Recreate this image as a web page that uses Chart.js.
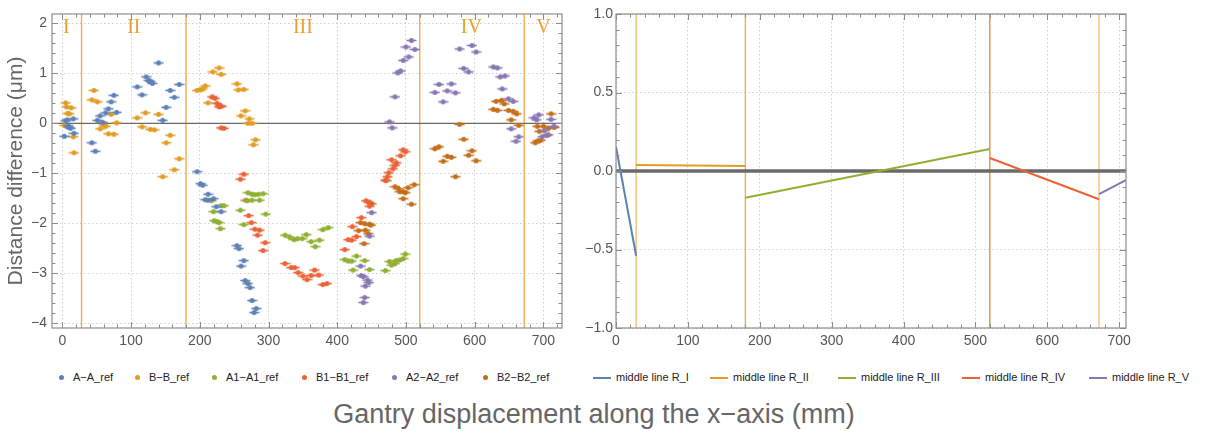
<!DOCTYPE html>
<html>
<head>
<meta charset="utf-8">
<script src="https://cdn.jsdelivr.net/npm/chart.js@4.4.0/dist/chart.umd.min.js"></script>
<style>
body { margin: 0; background: #fff; width: 1205px; height: 437px; position: relative; overflow: hidden; font-family: "Liberation Sans", Arial, sans-serif; }
#cL { position: absolute; left: 0; top: 0; }
#cR { position: absolute; left: 580px; top: 0; }
.leg { position: absolute; top: 370px; height: 14px; font-size: 11px; color: #222; white-space: nowrap; line-height: 14px; }
.dot { display: inline-block; width: 5px; height: 5px; border-radius: 50%; position: absolute; left: -2.5px; top: 5px; }
.dot + span { position: absolute; left: 12px; }
.sw { display: inline-block; width: 18px; height: 2px; position: absolute; left: 0; top: 7px; }
.sw + span { position: absolute; left: 23px; }
#xtitle { position: absolute; left: 0; width: 1188px; top: 399px; text-align: center; font-size: 27px; color: #666; }
</style>
</head>
<body>
<canvas id="cL" width="580" height="360"></canvas>
<canvas id="cR" width="625" height="360"></canvas>
<div id="legL"></div>
<div id="legR"></div>
<div id="xtitle">Gantry displacement along the x−axis (mm)</div>
<script>
// series names and colours
var seriesNames = ['A−A_ref', 'B−B_ref', 'A1−A1_ref', 'B1−B1_ref', 'A2−A2_ref', 'B2−B2_ref'];
var seriesColors = ['#5E81B5', '#E19C24', '#8FB032', '#EB6235', '#8778B3', '#C56E1A'];

// region boundaries and labels
var regionBounds = [28, 180, 520, 672];
var regionLabels = ['I', 'II', 'III', 'IV', 'V'];
var regionLabelX = [6, 104, 350, 595, 700];

// tick values
var xTicks = [0, 100, 200, 300, 400, 500, 600, 700];
var yTicksL = [-4, -3, -2, -1, 0, 1, 2];
var yTicksR = [-1, -0.5, 0, 0.5, 1];

// A-A_ref
var xAA = [3,5,7,9,10,12,16,17,43,48,51,55,59,63,67,71,75,79,109,116,122,126,128,131,140,146,151,157,163,170,196,201,204,208,212,212,220,224,231,254,257,260,264,266,270,273,276,279,282];
var yAA = [-0.26,0.05,0.07,-0.05,-0.08,-0.1,0.09,-0.2,-0.39,-0.56,0.06,0.15,0.02,0.21,0.29,0.43,0.56,0.22,0.73,0.57,0.93,0.86,0.84,0.80,1.21,0.06,0.32,0.66,0.52,0.78,-0.97,-1.21,-1.24,-1.53,-1.42,-1.54,-1.51,-1.67,-1.77,-2.45,-2.51,-2.86,-2.75,-3.15,-3.21,-3.29,-3.55,-3.79,-3.71];
// B-B_ref
var xBB = [3,5,6,8,10,13,16,17,43,46,51,55,60,63,67,71,75,79,109,116,121,128,134,140,146,151,157,163,170,196,201,204,208,212,219,228,231,254,256,260,264,266,270,272,276,278,281];
var yBB = [-0.04,0.41,0.33,0.2,0.19,0.31,-0.27,-0.59,0.47,0.66,0.43,-0.11,-0.03,-0.06,-0.21,0.18,-0.22,0.01,0.11,-0.07,0.21,-0.12,-0.13,0.18,-1.07,-0.39,-0.24,-0.93,-0.71,0.66,0.67,0.69,0.75,0.41,1.03,1.11,0.98,0.79,0.67,0.15,0.68,0.25,0.0,0.09,0.0,-0.43,-0.33];
// A1-A1_ref
var xA1 = [217,220,221,225,228,230,231,235,259,264,269,270,276,276,280,285,287,292,296,324,331,337,342,349,355,362,368,374,379,387,411,416,421,423,428,440,447,470,476,479,484,486,491,496,499];
var yA1 = [-1.55,-1.77,-1.95,-1.97,-1.99,-2.11,-1.65,-1.65,-1.74,-2.03,-1.55,-1.39,-1.42,-1.54,-1.43,-1.42,-1.54,-1.41,-1.82,-2.24,-2.28,-2.33,-2.31,-2.31,-2.23,-2.37,-2.47,-2.34,-2.13,-2.09,-2.73,-2.76,-2.76,-2.94,-2.66,-2.75,-2.93,-2.95,-2.77,-2.84,-2.81,-2.75,-2.74,-2.71,-2.62];
// B1-B1_ref
var xB1 = [218,222,225,228,230,231,231,235,259,264,267,271,275,280,284,287,292,295,324,333,338,343,350,356,362,367,373,379,385,411,416,421,422,428,435,442,446,447,470,471,473,475,479,481,484,486,492,496,499];
var yB1 = [0.53,0.5,0.4,0.33,0.35,0.34,-0.09,-0.1,-1.12,-1.02,-1.54,-1.85,-1.99,-2.12,-2.24,-2.14,-2.55,-2.39,-2.81,-2.89,-2.89,-2.99,-3.06,-3.13,-3.05,-2.94,-3.04,-3.23,-3.21,-2.53,-2.33,-2.34,-2.07,-2.27,-1.89,-1.55,-1.58,-1.66,-1.14,-1.15,-1.07,-0.99,-0.73,-0.91,-0.84,-0.79,-0.65,-0.53,-0.57];
// A2-A2_ref
var xA2 = [434,435,438,438,440,441,444,446,447,450,476,480,484,488,492,496,500,504,508,513,542,548,554,560,566,572,578,584,591,596,602,627,633,637,640,644,649,653,656,660,664,686,690,693,698,701,707,711,715];
var yA2 = [-2.86,-3.05,-3.07,-3.59,-3.49,-3.26,-3.14,-3.19,-2.26,-1.79,0.03,-0.09,0.53,1.01,1.05,1.26,1.53,1.33,1.66,1.48,0.62,0.78,0.43,0.65,0.79,0.61,1.49,1.10,1.03,1.56,1.43,1.13,1.11,0.93,0.69,0.95,0.49,-0.11,0.44,-0.36,-0.27,0.11,0.07,0.17,-0.27,-0.15,-0.23,0.08,-0.06];
// B2-B2_ref
var xB2 = [431,434,439,440,441,445,447,449,450,484,489,491,496,496,499,503,508,512,542,548,554,560,566,572,578,584,591,596,602,627,631,633,639,643,649,653,656,661,664,688,691,692,694,696,700,705,707,711,716];
var yB2 = [-2.15,-1.99,-2.41,-2.01,-2.14,-2.21,-2.02,-2.04,-1.61,-1.27,-1.31,-1.37,-1.37,-1.51,-1.39,-1.29,-1.62,-1.23,-0.51,-0.47,-0.76,-0.66,-0.68,-1.07,-0.02,-0.32,-0.64,-0.55,-0.75,0.28,0.44,0.26,0.46,0.39,0.26,0.07,0.24,0.19,-0.04,-0.39,-0.06,-0.35,-0.16,-0.34,-0.06,-0.24,-0.1,0.19,-0.08];

// middle lines (right panel): start and end of each segment
var lineNames = ['middle line R_I', 'middle line R_II', 'middle line R_III', 'middle line R_IV', 'middle line R_V'];
var lineX = [[0, 28], [28, 180], [180, 520], [520, 672], [672, 710]];
var lineY = [[0.155, -0.54], [0.038, 0.032], [-0.17, 0.14], [0.083, -0.18], [-0.147, -0.057]];

var scatterX = [xAA, xBB, xA1, xB1, xA2, xB2];
var scatterY = [yAA, yBB, yA1, yB1, yA2, yB2];

function pair(xs, ys) {
	return xs.map(function (x, i) { return { x: x, y: ys[i] }; });
}

function fixedTicks(vals) {
	return function (s) { s.ticks = vals.map(function (v) { return { value: v }; }); };
}

function makeMarker(color) {
	var c = document.createElement('canvas');
	c.width = 11; c.height = 7;
	var g = c.getContext('2d');
	g.strokeStyle = color; g.lineWidth = 1.6;
	g.beginPath(); g.moveTo(0.5, 3.5); g.lineTo(10.5, 3.5); g.stroke();
	g.fillStyle = color;
	g.beginPath(); g.arc(5.5, 3.5, 2.5, 0, Math.PI * 2); g.fill();
	return c;
}

function minusFmt(digits) {
	return function (v) {
		var s = Math.abs(v).toFixed(digits);
		return v < 0 ? '−' + s : s;
	};
}

// frame with inward major/minor ticks on all sides
var framePlugin = {
	id: 'frame',
	afterDraw: function (chart, args, o) {
		var ctx = chart.ctx, a = chart.chartArea, x = chart.scales.x, y = chart.scales.y;
		ctx.save();
		ctx.strokeStyle = '#8c8c8c';
		ctx.lineWidth = 1;
		ctx.beginPath();
		var i, v, px, len;
		for (i = Math.ceil(x.min / o.xMinor); i * o.xMinor <= x.max; i++) {
			v = i * o.xMinor;
			len = (i % o.xEvery === 0) ? 6 : 3.5;
			px = Math.round(x.getPixelForValue(v)) + 0.5;
			ctx.moveTo(px, a.top); ctx.lineTo(px, a.top + len);
			ctx.moveTo(px, a.bottom); ctx.lineTo(px, a.bottom - len);
		}
		for (i = Math.ceil(y.min / o.yMinor - 1e-6); i * o.yMinor <= y.max + 1e-6; i++) {
			v = i * o.yMinor;
			len = (i % o.yEvery === 0) ? 6 : 3.5;
			px = Math.round(y.getPixelForValue(v)) + 0.5;
			ctx.moveTo(a.left, px); ctx.lineTo(a.left + len, px);
			ctx.moveTo(a.right, px); ctx.lineTo(a.right - len, px);
		}
		ctx.stroke();
		ctx.lineWidth = 1.2;
		ctx.strokeRect(a.left, a.top, a.right - a.left, a.bottom - a.top);
		ctx.restore();
	}
};

// zero line + region boundaries, drawn under the data
var regionPlugin = {
	id: 'regions',
	beforeDatasetsDraw: function (chart, args, o) {
		var ctx = chart.ctx, a = chart.chartArea, x = chart.scales.x, y = chart.scales.y;
		ctx.save();
		ctx.lineWidth = 1.4;
		regionBounds.forEach(function (b, i) {
			var px = x.getPixelForValue(b);
			ctx.strokeStyle = o.lineColors[i];
			ctx.beginPath(); ctx.moveTo(px, a.top); ctx.lineTo(px, a.bottom); ctx.stroke();
		});
		ctx.strokeStyle = '#6a6a6a';
		ctx.lineWidth = o.zeroWidth;
		var py = y.getPixelForValue(0);
		ctx.beginPath(); ctx.moveTo(a.left, py); ctx.lineTo(a.right, py); ctx.stroke();
		ctx.restore();
	},
	afterDatasetsDraw: function (chart, args, o) {
		if (!o.labels) return;
		var ctx = chart.ctx, x = chart.scales.x, y = chart.scales.y;
		ctx.save();
		ctx.fillStyle = '#E8A030';
		ctx.font = '20px "Liberation Serif", "DejaVu Serif", serif';
		ctx.textAlign = 'center';
		ctx.textBaseline = 'middle';
		regionLabels.forEach(function (t, i) {
			ctx.fillText(t, x.getPixelForValue(regionLabelX[i]), y.getPixelForValue(1.92));
		});
		ctx.restore();
	}
};

var tickFont = { family: '"Liberation Sans", Arial, sans-serif', size: 14 };
var gridOpts = { color: '#cfcfcf', lineWidth: 1, drawTicks: false };
var borderOpts = { display: false, dash: [1.5, 2.5] };
var orangeLine = 'rgba(236,164,60,0.9)';

new Chart(document.getElementById('cL').getContext('2d'), {
	type: 'scatter',
	data: {
		datasets: scatterX.map(function (xs, i) {
			return {
				label: seriesNames[i],
				data: pair(xs, scatterY[i]),
				pointStyle: makeMarker(seriesColors[i]),
				backgroundColor: seriesColors[i],
				borderColor: seriesColors[i]
			};
		})
	},
	options: {
		responsive: false,
		animation: false,
		events: [],
		layout: { padding: { top: 14, right: 18, left: 0, bottom: 0 } },
		plugins: {
			legend: { display: false },
			tooltip: { enabled: false },
			frame: { xMinor: 20, xEvery: 5, yMinor: 0.2, yEvery: 5 },
			regions: { zeroWidth: 1.4, labels: true, lineColors: [orangeLine, orangeLine, orangeLine, orangeLine] }
		},
		scales: {
			x: {
				type: 'linear', min: -15, max: 727,
				afterBuildTicks: fixedTicks(xTicks),
				ticks: { font: tickFont, color: '#555', padding: 5, maxRotation: 0 },
				grid: gridOpts, border: borderOpts,
				afterFit: function (s) { s.height = 32; }
			},
			y: {
				min: -4.1, max: 2.19,
				afterBuildTicks: fixedTicks(yTicksL),
				ticks: { font: tickFont, color: '#555', padding: 5, callback: minusFmt(0) },
				grid: gridOpts, border: borderOpts,
				title: { display: true, text: 'Distance difference (μm)', color: '#666', font: { family: '"Liberation Sans", Arial, sans-serif', size: 21 }, padding: { top: 4, bottom: 0 } },
				afterFit: function (s) { s.width = 52; }
			}
		}
	},
	plugins: [regionPlugin, framePlugin]
});

new Chart(document.getElementById('cR').getContext('2d'), {
	type: 'scatter',
	data: {
		datasets: lineX.map(function (xs, i) {
			return {
				label: lineNames[i],
				data: pair(xs, lineY[i]),
				showLine: true,
				borderColor: seriesColors[i],
				backgroundColor: seriesColors[i],
				borderWidth: 2,
				pointRadius: 0
			};
		})
	},
	options: {
		responsive: false,
		animation: false,
		events: [],
		layout: { padding: { top: 14, right: 79, left: 0, bottom: 0 } },
		plugins: {
			legend: { display: false },
			tooltip: { enabled: false },
			frame: { xMinor: 20, xEvery: 5, yMinor: 0.1, yEvery: 5 },
			regions: { zeroWidth: 3.5, labels: false, lineColors: ['rgba(242,186,100,0.95)', 'rgba(238,170,75,0.95)', 'rgba(222,140,50,0.95)', 'rgba(245,192,110,0.95)'] }
		},
		scales: {
			x: {
				type: 'linear', min: 0, max: 709.5,
				afterBuildTicks: fixedTicks(xTicks),
				ticks: { font: tickFont, color: '#555', padding: 5, maxRotation: 0 },
				grid: gridOpts, border: borderOpts,
				afterFit: function (s) { s.height = 32; }
			},
			y: {
				min: -1, max: 1,
				afterBuildTicks: fixedTicks(yTicksR),
				ticks: { font: tickFont, color: '#555', padding: 3, callback: minusFmt(1) },
				grid: gridOpts, border: borderOpts,
				afterFit: function (s) { s.width = 36; }
			}
		}
	},
	plugins: [regionPlugin, framePlugin]
});

// legends
var legLPos = [61, 137, 214, 304, 394, 485];
var legRPos = [593, 710, 838, 962, 1089];
var legL = document.getElementById('legL');
seriesNames.forEach(function (n, i) {
	var d = document.createElement('div');
	d.className = 'leg';
	d.style.left = legLPos[i] + 'px';
	d.innerHTML = '<i class="dot" style="background:' + seriesColors[i] + '"></i><span>' + n + '</span>';
	legL.appendChild(d);
});
var legR = document.getElementById('legR');
lineNames.forEach(function (n, i) {
	var d = document.createElement('div');
	d.className = 'leg';
	d.style.left = legRPos[i] + 'px';
	d.innerHTML = '<i class="sw" style="background:' + seriesColors[i] + '"></i><span>' + n + '</span>';
	legR.appendChild(d);
});
</script>
</body>
</html>
